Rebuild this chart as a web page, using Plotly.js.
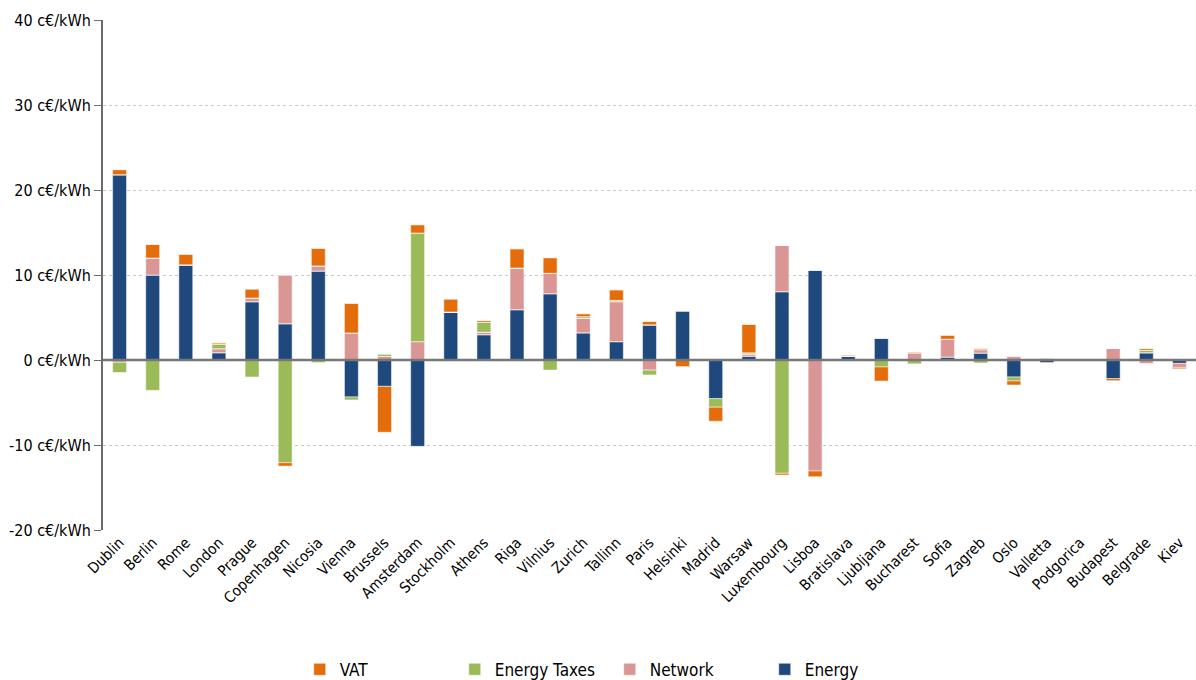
<!DOCTYPE html>
<html>
<head>
<meta charset="utf-8">
<script src="https://cdn.plot.ly/plotly-3.0.1.min.js"></script>
<style>html,body{margin:0;padding:0;background:#fff;}#chart{width:1196px;height:680px;}</style>
</head>
<body>
<div id="chart"></div>
<script>
const cities = ["Dublin","Berlin","Rome","London","Prague","Copenhagen","Nicosia","Vienna","Brussels","Amsterdam","Stockholm","Athens","Riga","Vilnius","Zurich","Tallinn","Paris","Helsinki","Madrid","Warsaw","Luxembourg","Lisboa","Bratislava","Ljubljana","Bucharest","Sofia","Zagreb","Oslo","Valletta","Podgorica","Budapest","Belgrade","Kiev"];

// Positive and negative parts of each component (c€/kWh)
const energyPos = [21.8,10.0,11.2,0.86,6.86,4.27,10.47,0,0,0,5.65,2.98,5.92,7.8,3.2,2.16,4.14,5.8,0,0.45,8.04,10.6,0.47,2.6,0,0.35,0.82,0,0,0,0,0.86,0];
const energyNeg = [0,0,0,0,0,0,0,-4.35,-3.1,-10.16,0,0,0,0,0,0,0,0,-4.55,0,0,0,0,0,0,0,0,-2.0,-0.3,-0.08,-2.2,0,-0.4];
const networkPos = [0,2.0,0,0.47,0.43,5.76,0.6,3.18,0.42,2.16,0,0.3,4.9,2.4,1.7,4.7,0,0,0,0.25,5.45,0,0,0,0.85,2.1,0.4,0.47,0,0,1.37,0,0];
const networkNeg = [-0.27,0,0,0,0,0,0,0,0,0,0,0,0,0,0,0,-1.19,0,0,0,0,-13.06,0,0,0,0,0,0,0,0,0,-0.4,-0.47];
const taxesPos = [0,0,0,0.55,0,0,0,0,0.3,12.78,0,1.18,0,0,0.2,0.15,0,0,0,0.15,0,0,0,0,0,0,0,0,0.25,0,0,0.3,0];
const taxesNeg = [-1.2,-3.57,0,0,-2.0,-12.08,-0.3,-0.35,0,0,0,0,0,-1.18,0,0,-0.57,0,-1.0,0,-13.33,0,0,-0.82,-0.45,0,-0.35,-0.47,0,0,0,0,0];
const vatPos = [0.6,1.6,1.25,0.15,1.06,0,2.08,3.5,0,0.98,1.53,0.2,2.27,1.84,0.35,1.25,0.42,0,0,3.35,0,0,0.12,0,0.1,0.47,0.15,0,0,0.08,0,0.2,0];
const vatNeg = [0,0,0,0,0,-0.4,0,0,-5.4,0,0,0,0,0,0,0,0,-0.78,-1.65,0,-0.2,-0.67,0,-1.65,0,0,0,-0.47,0,0,-0.24,0,-0.16];

const tickVals = [-20,-10,0,10,20,30,40];
const tickText = tickVals.map(v => v + " c€/kWh");

const colors = {VAT:"#E46C0A", Taxes:"#9BBB59", Network:"#D99694", Energy:"#1F497D"};
const font = "DejaVu Sans Condensed, DejaVu Sans, sans-serif";

function bar(name, y, color, group, show) {
  return {type:"bar", x:cities, y:y, name:name, legendgroup:group, showlegend:show,
    marker:{color:color, line:{color:"rgba(255,255,255,0.5)", width:1}}, hoverinfo:"x+y+name"};
}

const traces = [
  bar("Energy", energyPos, colors.Energy, "e", true),
  bar("Energy", energyNeg, colors.Energy, "e", false),
  bar("Network", networkPos, colors.Network, "n", true),
  bar("Network", networkNeg, colors.Network, "n", false),
  bar("Energy Taxes", taxesPos, colors.Taxes, "t", true),
  bar("Energy Taxes", taxesNeg, colors.Taxes, "t", false),
  bar("VAT", vatPos, colors.VAT, "v", true),
  bar("VAT", vatNeg, colors.VAT, "v", false)
];

const layout = {
  width:1196, height:680,
  margin:{l:103, r:0, t:20, b:150, autoexpand:false},
  barmode:"relative",
  bargap:0.58,
  paper_bgcolor:"#fff", plot_bgcolor:"#fff",
  font:{family:font, size:16, color:"#000"},
  xaxis:{
    type:"category", tickangle:-45, showgrid:false, zeroline:false, showline:false,
    ticks:"", automargin:false, tickfont:{family:font, size:15, color:"#000"}
  },
  yaxis:{
    range:[-20,40], tickvals:tickVals, ticktext:tickText, automargin:false,
    showgrid:true, gridcolor:"#c8c8c8", griddash:"dot", gridwidth:1,
    zeroline:false, showline:true, linecolor:"#6b6b6b", linewidth:2,
    ticks:"outside", ticklen:7, tickcolor:"#6b6b6b", tickwidth:1,
    tickfont:{family:font, size:16, color:"#000"}
  },
  shapes:[{type:"line", xref:"paper", yref:"y", x0:0, x1:1, y0:0, y1:0,
    line:{color:"#777", width:2.5}, layer:"above"}],
  legend:{
    orientation:"h", traceorder:"reversed", x:0.18, xanchor:"left", y:-0.274, yanchor:"middle",
    entrywidth:110, font:{family:font, size:17, color:"#000"}
  },
  showlegend:true
};

Plotly.newPlot("chart", traces, layout, {displayModeBar:false, staticPlot:true});
</script>
</body>
</html>
